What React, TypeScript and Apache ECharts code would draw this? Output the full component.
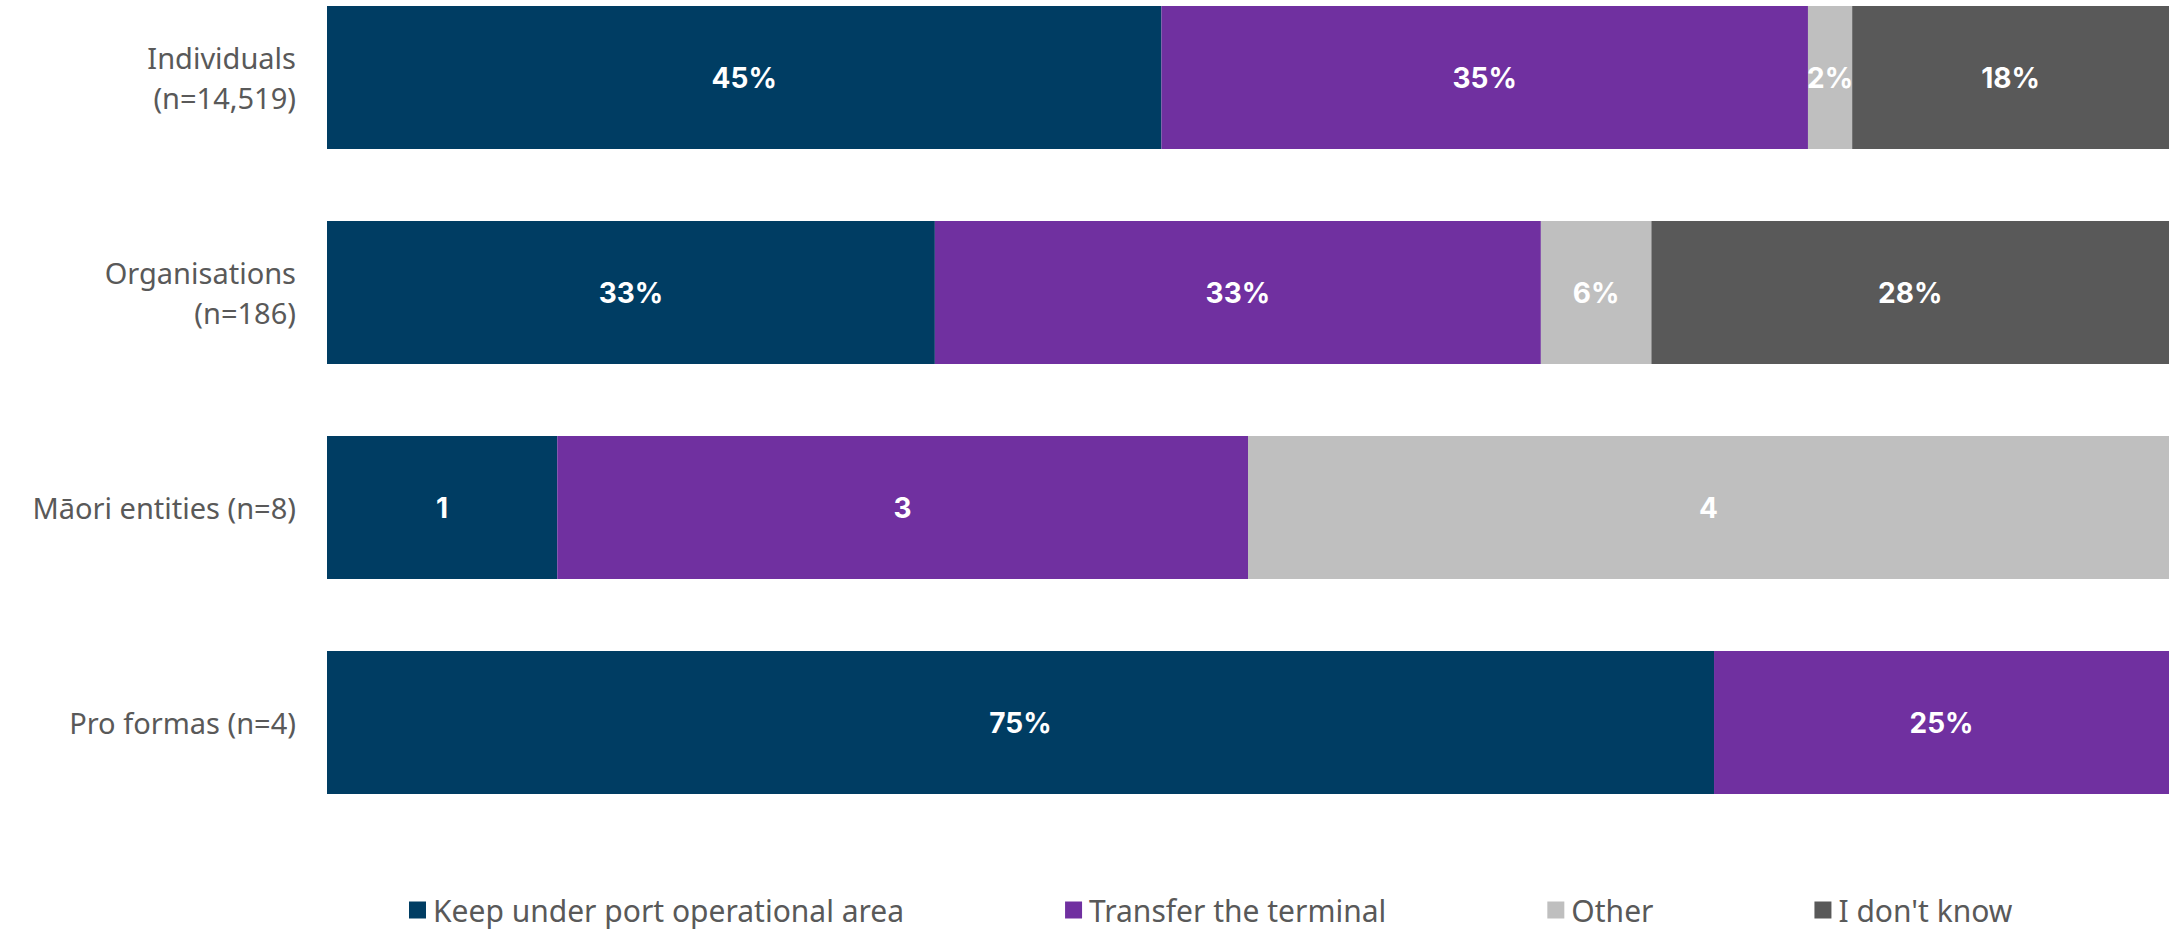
import React, { useEffect, useRef } from "react";
import * as echarts from "echarts";

const categories = [
  "Individuals\n(n=14,519)",
  "Organisations\n(n=186)",
  "Māori entities (n=8)",
  "Pro formas (n=4)",
];
const seriesNames = [
  "Keep under port operational area",
  "Transfer the terminal",
  "Other",
  "I don't know",
];
const colors = ["#003d63", "#7030a0", "#bfbfbf", "#595959"];

// segment sizes (share of bar, %); null = no segment
const keepValues = [45.3, 33.0, 12.5, 75.3];
const transferValues = [35.1, 32.9, 37.5, 24.7];
const otherValues = [2.4, 6.0, 50.0, null];
const dontKnowValues = [17.2, 28.1, null, null];

// labels as printed on the bars
const keepLabels = ["45%", "33%", "1", "75%"];
const transferLabels = ["35%", "33%", "3", "25%"];
const otherLabels = ["2%", "6%", "4", ""];
const dontKnowLabels = ["18%", "28%", "", ""];

const allValues = [keepValues, transferValues, otherValues, dontKnowValues];
const allLabels = [keepLabels, transferLabels, otherLabels, dontKnowLabels];

export default function App() {
  const ref = useRef<HTMLDivElement>(null);
  useEffect(() => {
    if (!ref.current) return;
    const chart = echarts.init(ref.current, undefined, { renderer: "svg" });
    chart.setOption({
      animation: false,
      backgroundColor: "#ffffff",
      color: colors,
      grid: { left: 327, right: 0, top: 0, bottom: 100, containLabel: false },
      legend: {
        left: 404,
        top: 919,
        itemWidth: 17,
        itemHeight: 17,
        itemGap: 161,
        icon: "rect",
        textStyle: {
          fontFamily: "Noto Sans",
          fontSize: 30,
          lineHeight: 32,
          color: "#595959",
          padding: [0, 0, 0, 2],
        },
        data: seriesNames,
      },
      xAxis: {
        type: "value",
        min: 0,
        max: 100,
        show: false,
      },
      yAxis: {
        type: "category",
        inverse: true,
        data: categories,
        axisLine: { show: false },
        axisTick: { show: false },
        splitLine: { show: false },
        axisLabel: {
          margin: 31,
          fontFamily: "Noto Sans",
          fontSize: 29,
          lineHeight: 40,
          color: "#595959",
          align: "right",
        },
      },
      series: seriesNames.map((name, si) => ({
        name,
        type: "bar",
        stack: "total",
        barCategoryGap: "33.5%",
        itemStyle: { color: colors[si] },
        label: {
          show: true,
          position: "inside",
          color: "#ffffff",
          fontFamily: "Inter",
          fontWeight: 700,
          fontSize: 28,
          formatter: (p: any) => allLabels[si][p.dataIndex] || "",
        },
        data: allValues[si],
      })),
    });
    return () => chart.dispose();
  }, []);
  return (
    <div
      ref={ref}
      style={{ position: "fixed", left: 0, top: -30, width: 2169, height: 960 }}
    />
  );
}
